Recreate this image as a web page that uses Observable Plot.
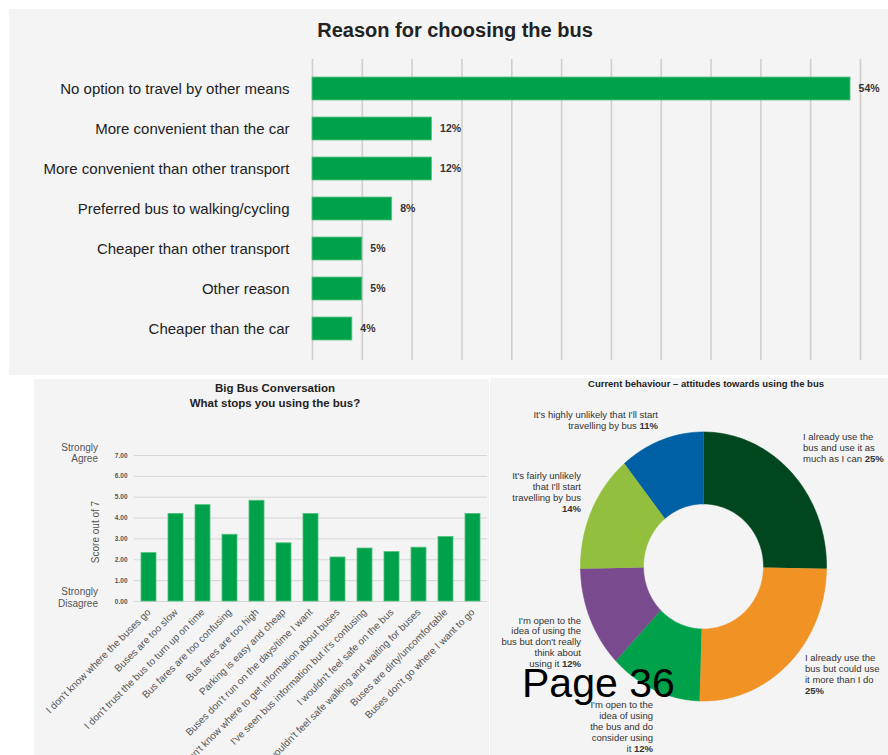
<!DOCTYPE html>
<html><head><meta charset="utf-8">
<script src="https://cdn.jsdelivr.net/npm/d3@7"></script>
<script src="https://cdn.jsdelivr.net/npm/@observablehq/plot@0.6"></script>
<style>
body{margin:0;background:#fff;font-family:"Liberation Sans",Arial,sans-serif;}
#root{position:relative;width:888px;height:755px;overflow:hidden;background:#fff;}
.panel{position:absolute;background:#f4f4f4;}
.panel svg{position:absolute;left:0;top:0;}
.abs{position:absolute;white-space:nowrap;}
.lbl{position:absolute;white-space:nowrap;font-size:9.5px;line-height:11px;color:#333;}
.r{text-align:right;}
</style></head><body><div id="root">
<div class="panel" id="p1" style="left:9px;top:9px;width:879px;height:366px;"></div>
<div class="panel" id="p2" style="left:34px;top:379px;width:455px;height:376px;"></div>
<div class="panel" id="p3" style="left:490px;top:378px;width:398px;height:377px;"></div>
</div>
<script>
// ---- Data: Reason for choosing the bus ----
const reasons = ["No option to travel by other means","More convenient than the car","More convenient than other transport","Preferred bus to walking/cycling","Cheaper than other transport","Other reason","Cheaper than the car"];
const reasonPct = [54,12,12,8,5,5,4];
const pctTicks = [0,5,10,15,20,25,30,35,40,45,50,55];

// ---- Data: Big Bus Conversation ----
const barriers = ["I don't know where the buses go","Buses are too slow","I don't trust the bus to turn up on time","Bus fares are too confusing","Bus fares are too high","Parking is easy and cheap","Buses don't run on the days/time I want","I don't know where to get information about buses","I've seen bus information but it's confusing","I wouldn't feel safe on the bus","I wouldn't feel safe walking and waiting for buses","Buses are dirty/uncomfortable","Buses don't go where I want to go"];
const barrierScores = [2.32,4.20,4.62,3.20,4.83,2.79,4.20,2.11,2.54,2.37,2.58,3.09,4.20];
const scoreTicks = [0,1,2,3,4,5,6,7];

// ---- Data: Current behaviour ----
const attitudes = ["use as much as I can","could use more","open, do consider","open, don't think about","fairly unlikely","highly unlikely"];
const attitudePct = [25,25,12,12,14,11];
const attitudeColors = ["#00471f","#f09224","#00a14b","#7a4a8f","#92c03e","#0060a6"];

const font = '"Liberation Sans", Arial, sans-serif';
const root = document.getElementById("root");
function addDiv(cls, style, html){const d=document.createElement("div");d.className=cls;d.setAttribute("style",style);d.innerHTML=html;root.appendChild(d);return d;}

// ---- Chart 1 ----
const reasonData = reasons.map((r,i)=>({reason:r, pct:reasonPct[i]}));
const c1 = Plot.plot({
  width:879, height:366,
  marginLeft:303, marginRight:28, marginTop:50, marginBottom:15,
  style:{background:"transparent", fontFamily:font},
  x:{domain:[0,55], axis:null},
  y:{domain:reasons, paddingInner:0.42, paddingOuter:0.21, insetTop:10, insetBottom:11},
  marks:[
    Plot.ruleX(pctTicks,{stroke:"#d2cecb", strokeWidth:1.6}),
    Plot.barX(reasonData,{x:"pct", y:"reason", fill:"#00a14b", stroke:"#5cc585", strokeWidth:0.8}),
    Plot.text(reasonData,{x:"pct", y:"reason", text:d=>d.pct+"%", dx:8, textAnchor:"start", fontWeight:"bold", fontSize:10.5, fill:"#333"}),
    Plot.axisY({tickSize:0, tickPadding:23, fontSize:15, fill:"#222", label:null})
  ]
});
document.getElementById("p1").appendChild(c1);

// ---- Chart 2 ----
const barrierData = barriers.map((b,i)=>({b, s:barrierScores[i]}));
const c2 = Plot.plot({
  width:455, height:376,
  marginLeft:100, marginRight:2, marginTop:76, marginBottom:154,
  style:{background:"transparent", fontFamily:font},
  x:{domain:barriers, paddingInner:0.46, paddingOuter:0.23},
  y:{domain:[0,7]},
  marks:[
    Plot.gridY(scoreTicks,{stroke:"#d6d6d6", strokeOpacity:1, strokeWidth:1}),
    Plot.barY(barrierData,{x:"b", y:"s", fill:"#00a14b", stroke:"#52c07f", strokeWidth:0.8}),
    Plot.axisY(scoreTicks,{tickSize:0, tickPadding:7, tickFormat:d=>d.toFixed(2), fontSize:6.5, fontWeight:"bold", fill:"#555", label:null}),
    Plot.axisX({tickSize:0, tickPadding:9, tickRotate:-45, fontSize:10, fill:"#555", label:null})
  ]
});
document.getElementById("p2").appendChild(c2);

// ---- Chart 3 (donut) ----
const total = d3.sum(attitudePct);
const innerX = 0.488, innerY = 0.465;
const ringPts = [];
let cum = 0;
attitudes.forEach((k,i)=>{
  const a0 = cum/total*2*Math.PI; cum += attitudePct[i]; const a1 = cum/total*2*Math.PI;
  const n = Math.max(4, Math.ceil((a1-a0)/(Math.PI/180)));
  for(let j=0;j<=n;j++){const a=a0+(a1-a0)*j/n; ringPts.push({key:k, x:Math.sin(a), y:Math.cos(a)});}
  for(let j=n;j>=0;j--){const a=a0+(a1-a0)*j/n; ringPts.push({key:k, x:innerX*Math.sin(a), y:innerY*Math.cos(a)});}
});
const c3 = Plot.plot({
  width:398, height:377, margin:0,
  style:{background:"transparent", fontFamily:font},
  x:{domain:[-1,1], range:[90,336], axis:null},
  y:{domain:[-1,1], range:[322.5,53.5], axis:null},
  color:{domain:attitudes, range:attitudeColors},
  marks:[
    Plot.line(ringPts,{x:"x", y:"y", z:"key", fill:"key", stroke:"key", strokeWidth:0.6, curve:"linear"})
  ]
});
document.getElementById("p3").appendChild(c3);

// ---- Titles & annotations ----
addDiv("abs","left:455px;top:18px;transform:translateX(-50%);font-size:20px;line-height:24px;font-weight:bold;color:#222;","Reason for choosing the bus");
addDiv("abs","left:275px;top:381px;transform:translateX(-50%);font-size:11.5px;line-height:15px;font-weight:bold;color:#222;text-align:center;","Big Bus Conversation<br>What stops you using the bus?");
addDiv("abs r","right:790px;top:441.5px;font-size:10px;line-height:11.5px;color:#555;text-align:right;","Strongly<br>Agree");
addDiv("abs r","right:790px;top:586px;font-size:10px;line-height:12px;color:#555;text-align:right;","Strongly<br>Disagree");
addDiv("abs","left:95px;top:532px;transform:translate(-50%,-50%) rotate(-90deg);font-size:10px;color:#555;","Score out of 7");

addDiv("abs","left:706px;top:378px;transform:translateX(-50%);font-size:9.5px;line-height:12px;font-weight:bold;color:#222;","Current behaviour – attitudes towards using the bus");
addDiv("lbl","left:803px;top:430.5px;","I already use the<br>bus and use it as<br>much as I can <b>25%</b>");
addDiv("lbl r","right:230px;top:408.5px;","It's highly unlikely that I'll start<br>travelling by bus <b>11%</b>");
addDiv("lbl r","right:307px;top:469.5px;","It's fairly unlikely<br>that I'll start<br>travelling by bus<br><b>14%</b>");
addDiv("lbl r","right:307px;top:615.5px;line-height:10.8px;","I'm open to the<br>idea of using the<br>bus but don't really<br>think about<br>using it <b>12%</b>");
addDiv("lbl r","right:235px;top:698.5px;","I'm open to the<br>idea of using<br>the bus and do<br>consider using<br>it <b>12%</b>");
addDiv("lbl","left:805px;top:651.5px;","I already use the<br>bus but could use<br>it more than I do<br><b>25%</b>");

addDiv("abs","left:522px;top:663px;font-size:41px;line-height:41px;color:#000;","Page 36");
</script>
</body></html>
